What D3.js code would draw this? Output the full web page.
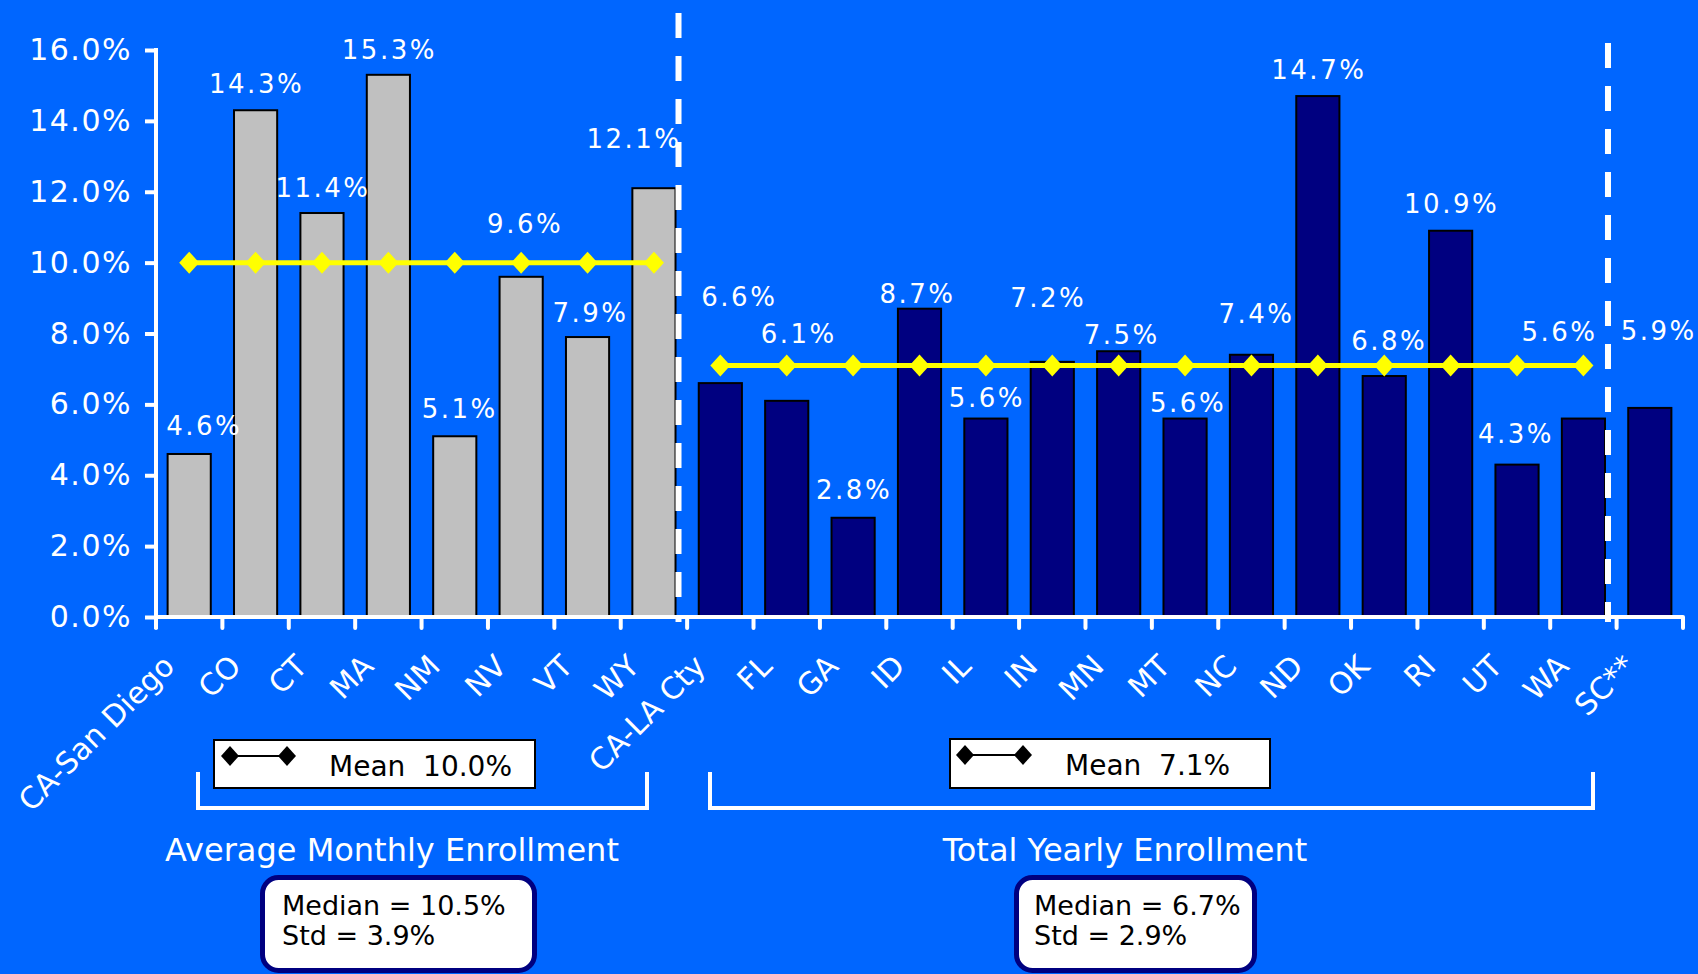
<!DOCTYPE html>
<html>
<head>
<meta charset="utf-8">
<script src="https://cdn.jsdelivr.net/npm/d3@7"></script>
<style>
  html, body { margin: 0; padding: 0; background: #0066FF; }
  svg { display: block; }
  text { font-family: "DejaVu Sans", Verdana, sans-serif; }
</style>
</head>
<body>
<svg id="chart" width="1698" height="974"></svg>
<script>
// ---------------- data ----------------
const categories = ["CA-San Diego","CO","CT","MA","NM","NV","VT","WY",
  "CA-LA Cty","FL","GA","ID","IL","IN","MN","MT","NC","ND","OK","RI","UT","WA","SC**"];
const values = [4.6,14.3,11.4,15.3,5.1,9.6,7.9,12.1,
  6.6,6.1,2.8,8.7,5.6,7.2,7.5,5.6,7.4,14.7,6.8,10.9,4.3,5.6,5.9];
const groupOf = ["monthly","monthly","monthly","monthly","monthly","monthly","monthly","monthly",
  "yearly","yearly","yearly","yearly","yearly","yearly","yearly","yearly","yearly","yearly","yearly","yearly","yearly","yearly",
  "other"];
const groupNames = ["Average Monthly Enrollment", "Total Yearly Enrollment"];
const groupKeys = ["monthly", "yearly"];
const groupMeans = [10.0, 7.1];
const groupMedians = [10.5, 6.7];
const groupStds = [3.9, 2.9];
const yTicks = [0, 2, 4, 6, 8, 10, 12, 14, 16];

// ---------------- layout (pixels, not data) ----------------
// [dx from bar centre, baseline lift above bar top]
const labelLayout = [[14,19],[0,17],[0,16],[0,16],[4,18],[3,44],[2,15],[-21,40],
  [18,77],[11,58],[0,19],[-3,6],[0,12],[-5,55],[2,7],[2,7],[4,32],[0,17],[4,26],[0,18],[-2,22],[-25,78],[8,68]];
const legendBoxes = [{x:214,y:740,w:321,h:48,d1:230,d2:287,tx:329}, {x:950,y:739,w:320,h:49,d1:965,d2:1023,tx:1065}];
const brackets = [{x1:198,x2:647}, {x1:710,x2:1593}];
const groupTitleX = [392, 1125];
const statBoxes = [{x:262.5,w:272,tx:282}, {x:1016.5,w:238,tx:1034}];
const sepTops = [13, 43];

const bg = "#0066FF", navy = "#000080", gray = "#C0C0C0", yellow = "#FFFF00";

const svg = d3.select("#chart");
svg.append("rect").attr("width",1698).attr("height",974).attr("fill",bg);

const x = d3.scaleBand().domain(categories).range([156, 1683]).paddingInner(0.35).paddingOuter(0.175);
const y = d3.scaleLinear().domain([0, 16]).range([617, 50]);
const step = x.step(), bw = x.bandwidth();
const cx = c => x(c) + bw / 2;

// bars
svg.append("g").selectAll("rect").data(categories).join("rect")
  .attr("x", d => x(d)).attr("width", bw)
  .attr("y", (d,i) => y(values[i])).attr("height", (d,i) => y(0) - y(values[i]))
  .attr("fill", (d,i) => groupOf[i] === "monthly" ? gray : navy)
  .attr("stroke", "#000").attr("stroke-width", 2);

// separators (dashed)
const sepCats = ["WY", "WA"];
sepCats.forEach((c, k) => {
  const sx = x(c) + bw + 3;
  svg.append("line").attr("x1", sx).attr("x2", sx).attr("y1", sepTops[k]).attr("y2", 622)
    .attr("stroke", "#fff").attr("stroke-width", 6).attr("stroke-dasharray", "25,18");
});

// Y axis
const yAxis = d3.axisLeft(y).tickValues(yTicks).tickSize(11).tickPadding(13)
  .tickFormat(d => d3.format(".1f")(d) + "%");
const gy = svg.append("g").attr("transform", "translate(156,0)").call(yAxis);
gy.select(".domain").remove();
gy.selectAll(".tick line").attr("stroke", "#fff").attr("stroke-width", 4);
gy.selectAll(".tick text").attr("fill", "#fff").attr("font-size", 30).attr("letter-spacing", 1.5)
  .attr("font-family", "DejaVu Sans");
svg.append("line").attr("x1",156).attr("x2",156).attr("y1", y(16)-2).attr("y2", y(0)+12)
  .attr("stroke","#fff").attr("stroke-width",4);

// X axis line + boundary ticks
const bounds = categories.map(c => x(c) - step * x.paddingInner() / 2).concat([x.range()[1]]);
svg.append("line").attr("x1", x.range()[0]).attr("x2", x.range()[1]).attr("y1", y(0)).attr("y2", y(0))
  .attr("stroke","#fff").attr("stroke-width",4);
svg.append("g").selectAll("line").data(bounds).join("line")
  .attr("x1", d => d).attr("x2", d => d).attr("y1", y(0)).attr("y2", y(0) + 11)
  .attr("stroke","#fff").attr("stroke-width",4).attr("stroke-linecap","round");

// category labels
svg.append("g").selectAll("text").data(categories).join("text")
  .attr("transform", d => `translate(${cx(d) - 13},${668}) rotate(-45)`)
  .attr("text-anchor","end").attr("fill","#fff").attr("font-size", 30)
  .text(d => d);

// mean lines with diamonds
const diamond = (s) => `M0,${-s*1.1}L${s},0L0,${s*1.1}L${-s},0Z`;
groupKeys.forEach((g, k) => {
  const cats = categories.filter((c,i) => groupOf[i] === g);
  const my = y(groupMeans[k]);
  svg.append("line").attr("x1", cx(cats[0])).attr("x2", cx(cats[cats.length-1]))
    .attr("y1", my).attr("y2", my).attr("stroke", yellow).attr("stroke-width", 5);
  svg.append("g").selectAll("path").data(cats).join("path")
    .attr("transform", d => `translate(${cx(d)},${my})`)
    .attr("d", diamond(10)).attr("fill", yellow);
});

// data labels
svg.append("g").selectAll("text").data(categories).join("text")
  .attr("x", (d,i) => cx(d) + labelLayout[i][0] + 1)
  .attr("y", (d,i) => y(values[i]) - labelLayout[i][1])
  .attr("text-anchor","middle").attr("fill","#fff").attr("font-size", 26).attr("letter-spacing", 2.5)
  .text((d,i) => d3.format(".1f")(values[i]) + "%");

// legends, brackets, group titles, stats boxes
groupKeys.forEach((g, k) => {
  const L = legendBoxes[k];
  svg.append("rect").attr("x", L.x).attr("y", L.y).attr("width", L.w).attr("height", L.h)
    .attr("fill","#fff").attr("stroke","#000").attr("stroke-width",2);
  const ly = L.y + 16;
  svg.append("line").attr("x1", L.d1).attr("x2", L.d2).attr("y1", ly).attr("y2", ly)
    .attr("stroke","#000").attr("stroke-width",2);
  [L.d1, L.d2].forEach(dx => svg.append("path").attr("transform", `translate(${dx},${ly})`)
    .attr("d", diamond(9)).attr("fill","#000"));
  svg.append("text").attr("x", L.tx).attr("y", L.y + 36).attr("fill","#000").attr("font-size",28)
    .style("white-space","pre").text("Mean  " + d3.format(".1f")(groupMeans[k]) + "%");

  const B = brackets[k];
  svg.append("path").attr("d", `M${B.x1},772V808H${B.x2}V772`).attr("fill","none")
    .attr("stroke","#fff").attr("stroke-width",4);

  svg.append("text").attr("x", groupTitleX[k]).attr("y", 861).attr("text-anchor","middle")
    .attr("fill","#fff").attr("font-size",32).text(groupNames[k]);

  const S = statBoxes[k];
  svg.append("rect").attr("x", S.x).attr("y", 877.5).attr("width", S.w).attr("height", 93).attr("rx", 16)
    .attr("fill","#fff").attr("stroke", navy).attr("stroke-width",5);
  svg.append("text").attr("x", S.tx).attr("y", 915).attr("fill","#000").attr("font-size",27)
    .text("Median = " + d3.format(".1f")(groupMedians[k]) + "%");
  svg.append("text").attr("x", S.tx).attr("y", 945).attr("fill","#000").attr("font-size",27)
    .text("Std = " + d3.format(".1f")(groupStds[k]) + "%");
});
</script>
</body>
</html>
